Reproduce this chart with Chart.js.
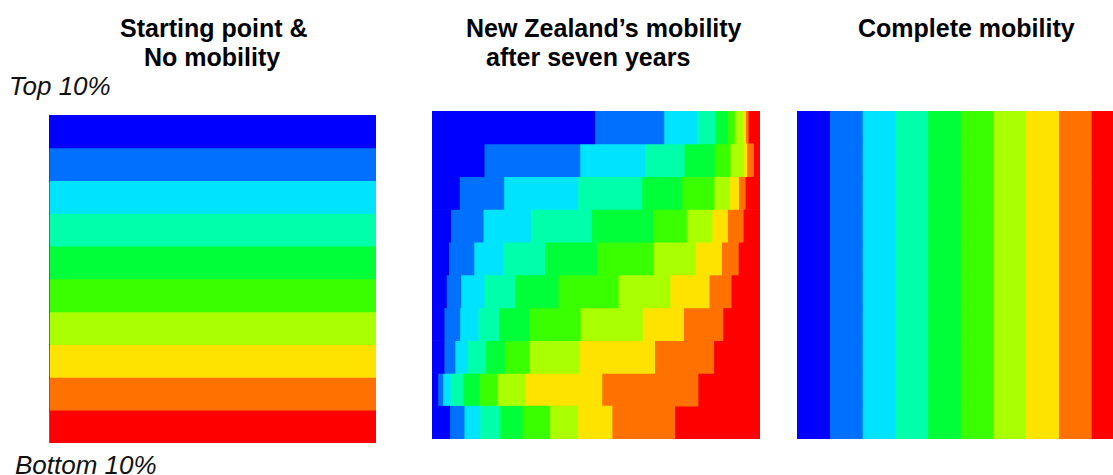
<!DOCTYPE html>
<html>
<head>
<meta charset="utf-8">
<title>Income mobility</title>
<script src="https://cdn.jsdelivr.net/npm/chart.js@4.4.1/dist/chart.umd.min.js"></script>
<style>
  body { margin: 0; width: 1113px; height: 475px; overflow: hidden; background: #fff; position: relative;
         font-family: "Liberation Sans", Arial, Helvetica, sans-serif; }
  .t { position: absolute; font-weight: bold; font-size: 25px; line-height: 25px; color: #000; white-space: nowrap; }
  .lab { position: absolute; font-style: italic; font-size: 26px; line-height: 26px; color: #111; white-space: nowrap; }
  canvas { position: absolute; }
</style>
</head>
<body>
<div class="t" style="left:120px; top:16px;">Starting point &amp;</div>
<div class="t" style="left:144px; top:45px;">No mobility</div>
<div class="t" style="left:466px; top:16px;">New Zealand’s mobility</div>
<div class="t" style="left:486px; top:45px;">after seven years</div>
<div class="t" style="left:858px; top:16px;">Complete mobility</div>
<div class="lab" style="left:9px; top:73px;">Top 10%</div>
<div class="lab" style="left:15px; top:452px;">Bottom 10%</div>

<canvas id="startChart" width="327" height="328" style="left:49px; top:115px;"></canvas>
<canvas id="nzChart" width="328" height="328" style="left:432px; top:111px;"></canvas>
<canvas id="completeChart" width="327" height="328" style="left:797px; top:111px;"></canvas>

<script>
// deciles, top of the distribution first
const deciles = ['Top 10%', '2nd', '3rd', '4th', '5th', '6th', '7th', '8th', '9th', 'Bottom 10%'];
const decileColors = ['#0000ff', '#0071ff', '#00e3ff', '#00ffaa', '#00ff39',
                      '#39ff00', '#aaff00', '#ffe300', '#ff7100', '#ff0000'];

// share (%) of each starting decile (row) ending in each decile (column)
const noMobility = [
  [100, 0, 0, 0, 0, 0, 0, 0, 0, 0],
  [0, 100, 0, 0, 0, 0, 0, 0, 0, 0],
  [0, 0, 100, 0, 0, 0, 0, 0, 0, 0],
  [0, 0, 0, 100, 0, 0, 0, 0, 0, 0],
  [0, 0, 0, 0, 100, 0, 0, 0, 0, 0],
  [0, 0, 0, 0, 0, 100, 0, 0, 0, 0],
  [0, 0, 0, 0, 0, 0, 100, 0, 0, 0],
  [0, 0, 0, 0, 0, 0, 0, 100, 0, 0],
  [0, 0, 0, 0, 0, 0, 0, 0, 100, 0],
  [0, 0, 0, 0, 0, 0, 0, 0, 0, 100]
];

const nzMobility = [
  [49.6, 21.1, 10.0,  5.6,  3.6,  2.3,  2.5,  0.9,  0.8,  3.6],
  [15.9, 29.2, 19.8, 12.0,  9.2,  4.8,  4.1,  1.0,  2.0,  2.0],
  [ 8.4, 13.5, 22.6, 19.5, 12.2,  9.8,  4.8,  2.7,  2.0,  4.5],
  [ 5.7,  9.9, 14.5, 18.5, 18.8, 10.2,  7.8,  4.7,  4.8,  5.1],
  [ 5.1,  7.7,  8.9, 12.7, 15.8, 17.3, 12.9,  7.9,  5.1,  6.6],
  [ 4.4,  4.4,  7.1,  9.4, 13.2, 18.3, 15.8, 11.9,  6.7,  8.8],
  [ 3.7,  4.8,  5.6,  6.3,  9.2, 15.6, 19.0, 12.5, 12.0, 11.3],
  [ 3.7,  3.3,  3.9,  5.5,  5.7,  7.5, 15.3, 23.0, 18.0, 14.1],
  [ 1.8,  1.5,  2.3,  3.8,  5.1,  5.3,  8.6, 23.4, 29.3, 18.9],
  [ 5.4,  4.4,  4.8,  6.1,  6.8,  8.4,  8.6, 10.4, 19.1, 26.0]
];

const completeShares = [10, 10, 10, 10, 10, 10, 10, 10, 10, 10];
const completeMobility = deciles.map(() => completeShares);

function drawPanel(id, matrix) {
  const ctx = document.getElementById(id).getContext('2d');
  return new Chart(ctx, {
    type: 'bar',
    data: {
      labels: deciles,
      datasets: deciles.map((d, j) => ({
        label: d,
        data: matrix.map(row => row[j]),
        backgroundColor: decileColors[j],
        borderWidth: 0,
        barPercentage: 1,
        categoryPercentage: 1
      }))
    },
    options: {
      indexAxis: 'y',
      responsive: false,
      animation: false,
      layout: { padding: 0 },
      plugins: { legend: { display: false }, tooltip: { enabled: false } },
      scales: {
        x: { stacked: true, min: 0, max: 100, display: false },
        y: { stacked: true, display: false }
      }
    }
  });
}

drawPanel('startChart', noMobility);
drawPanel('nzChart', nzMobility);
drawPanel('completeChart', completeMobility);
</script>
</body>
</html>
